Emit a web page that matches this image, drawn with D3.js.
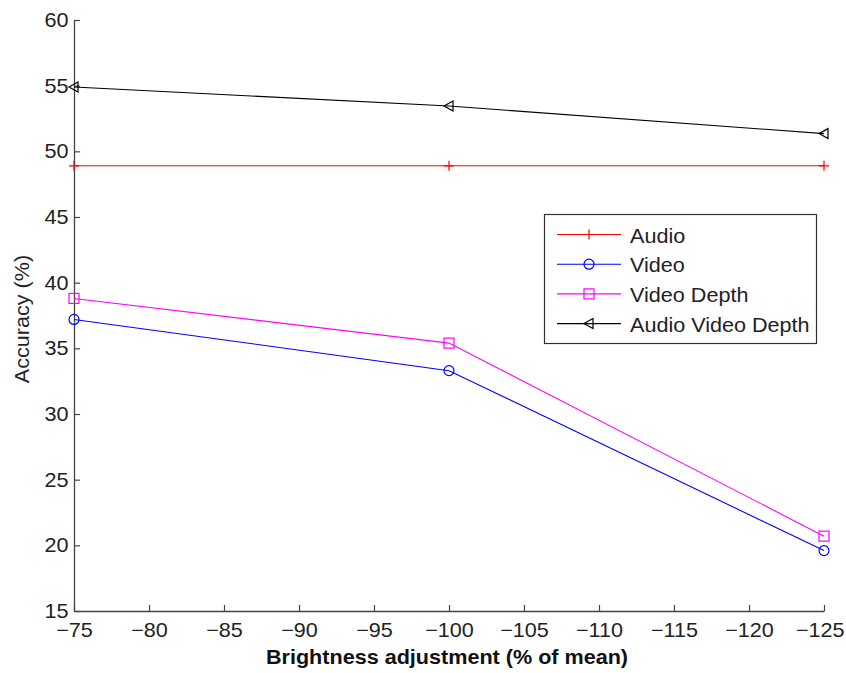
<!DOCTYPE html>
<html><head><meta charset="utf-8">
<script src="https://cdn.jsdelivr.net/npm/d3@7"></script>
<style>body{margin:0;background:#fff}svg{display:block}text{font-family:"Liberation Sans",Arial,sans-serif}</style>
</head><body><svg id="c" width="846" height="673"></svg>
<script>
const xValues = [-75, -100, -125];
const audio = [48.9, 48.9, 48.9];
const video = [37.2, 33.3, 19.6];
const videoDepth = [38.8, 35.4, 20.7];
const audioVideoDepth = [54.9, 53.45, 51.35];
const xTicks = [-75, -80, -85, -90, -95, -100, -105, -110, -115, -120, -125];
const yTicks = [15, 20, 25, 30, 35, 40, 45, 50, 55, 60];
const seriesNames = ["Audio", "Video", "Video Depth", "Audio Video Depth"];
const seriesColors = ["#ff0000", "#0000ff", "#ff00ff", "#000000"];
const seriesMarkers = ["plus", "circle", "square", "triangle"];

const series = [audio, video, videoDepth, audioVideoDepth].map((v, i) => ({
  name: seriesNames[i], color: seriesColors[i], marker: seriesMarkers[i],
  pts: v.map((y, j) => ({x: xValues[j], y}))
}));

const svg = d3.select("#c");
const L = 74, R = 824, T = 20, B = 611;
const FS = 20, SX = 1.08;
const x = d3.scaleLinear().domain([-75, -125]).range([L, R]);
const y = d3.scaleLinear().domain([15, 60]).range([B, T]);
const axisColor = "#444";

const gx = svg.append("g").attr("transform", `translate(0,${B})`)
  .call(d3.axisBottom(x).tickValues(xTicks).tickSizeInner(-6).tickSizeOuter(0).tickPadding(12));
const gy = svg.append("g").attr("transform", `translate(${L},0)`)
  .call(d3.axisLeft(y).tickValues(yTicks).tickSizeInner(-6).tickSizeOuter(0).tickPadding(5));
[gx, gy].forEach(g => {
  g.select(".domain").attr("stroke", axisColor).attr("stroke-width", 1.3);
  g.selectAll(".tick line").attr("stroke", axisColor).attr("stroke-width", 1.2);
  g.selectAll(".tick text").attr("fill", "#222").attr("font-size", FS)
    .attr("font-family", "Liberation Sans, Arial, sans-serif")
    .attr("transform", `scale(${SX},1)`);
});
gx.selectAll(".tick text").filter(d => d === -125).attr("dx", -4);

svg.append("g").attr("transform", `translate(447,664) scale(${SX},1)`)
  .append("text").attr("text-anchor", "middle")
  .attr("font-size", FS).attr("font-weight", "bold").attr("fill", "#111")
  .text("Brightness adjustment (% of mean)");
svg.append("g").attr("transform", `translate(29,319) rotate(-90) scale(${SX},1)`)
  .append("text").attr("text-anchor", "middle").attr("font-size", FS).attr("fill", "#222").text("Accuracy (%)");

const line = d3.line().x(d => x(d.x)).y(d => y(d.y));

function drawMarker(g, type, cx, cy, color) {
  if (type === "plus") {
    g.append("path").attr("d", `M${cx - 5},${cy}H${cx + 5}M${cx},${cy - 5}V${cy + 5}`)
      .attr("stroke", color).attr("stroke-width", 1.2).attr("fill", "none");
  } else if (type === "circle") {
    g.append("circle").attr("cx", cx).attr("cy", cy).attr("r", 5)
      .attr("stroke", color).attr("stroke-width", 1.2).attr("fill", "none");
  } else if (type === "square") {
    g.append("rect").attr("x", cx - 5).attr("y", cy - 5).attr("width", 10).attr("height", 10)
      .attr("stroke", color).attr("stroke-width", 1.2).attr("fill", "none");
  } else if (type === "triangle") {
    g.append("path").attr("d", `M${cx - 5},${cy}L${cx + 4},${cy - 5}L${cx + 4},${cy + 5}Z`)
      .attr("stroke", color).attr("stroke-width", 1.2).attr("fill", "none");
  }
}

series.forEach(s => {
  const g = svg.append("g");
  g.append("path").datum(s.pts).attr("d", line).attr("fill", "none")
    .attr("stroke", s.color).attr("stroke-width", 1.1);
  s.pts.forEach(p => drawMarker(g, s.marker, x(p.x), y(p.y), s.color));
});

// legend
const lg = svg.append("g");
lg.append("rect").attr("x", 544.5).attr("y", 214.5).attr("width", 272).attr("height", 129)
  .attr("fill", "#fff").attr("stroke", "#333").attr("stroke-width", 1.2);
series.forEach((s, i) => {
  const ly = 234.5 + i * 29.7;
  lg.append("line").attr("x1", 557).attr("x2", 621).attr("y1", ly).attr("y2", ly)
    .attr("stroke", s.color).attr("stroke-width", 1.1);
  drawMarker(lg, s.marker, 589, ly, s.color);
  lg.append("g").attr("transform", `translate(630,${ly + 8}) scale(${SX},1)`)
    .append("text").attr("font-size", FS).attr("fill", "#222").text(s.name);
});
</script></body></html>
